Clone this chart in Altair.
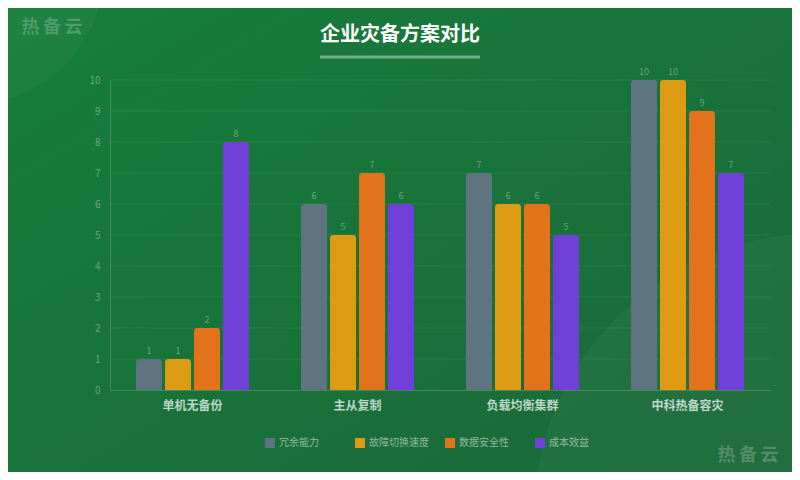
import altair as alt
import pandas as pd

categories = ["单机无备份", "主从复制", "负载均衡集群", "中科热备容灾"]
series = ["冗余能力", "故障切换速度", "数据安全性", "成本效益"]
colors = ["#5e7581", "#dd9a13", "#e2731b", "#7040d8"]
values = {
    "冗余能力": [1, 6, 7, 10],
    "故障切换速度": [1, 5, 6, 10],
    "数据安全性": [2, 7, 6, 9],
    "成本效益": [8, 6, 5, 7],
}
y_ticks = list(range(11))

rows = []
for s in series:
    for c, v in zip(categories, values[s]):
        rows.append({"方案": c, "指标": s, "值": v})
df = pd.DataFrame(rows)

FONT = "Noto Sans CJK SC"
W, H = 660, 310

x_enc = alt.X("方案:N", sort=categories,
              scale=alt.Scale(paddingInner=0, paddingOuter=0),
              axis=alt.Axis(title=None, labelAngle=0, labelFontSize=12, labelFontWeight="bold",
                            labelColor="rgba(255,255,255,0.72)", labelPadding=10, labelFont=FONT,
                            domainColor="rgba(255,255,255,0.18)", ticks=False, grid=False, zindex=1))
xo_enc = alt.XOffset("指标:N", sort=series,
                     scale=alt.Scale(paddingInner=3/29, paddingOuter=52/58))
y_scale = alt.Scale(domain=[0, 10], nice=False)
y_axis = alt.Axis(title=None, values=y_ticks, labelFontSize=10, labelFont=FONT,
                  labelColor="rgba(255,255,255,0.36)", labelPadding=10,
                  ticks=False, domainColor="rgba(255,255,255,0.18)",
                  grid=False, zindex=1)
color_enc = alt.Color("指标:N", sort=series,
                      scale=alt.Scale(domain=series, range=colors),
                      legend=alt.Legend(title=None, orient="none", direction="horizontal",
                                        columns=4, gridAlign="all",
                                        legendX=155, legendY=358, symbolType="square",
                                        symbolSize=100, symbolStrokeWidth=0, symbolOpacity=1,
                                        labelColor="rgba(255,255,255,0.52)", labelFontSize=10,
                                        labelFont=FONT, columnPadding=16,
                                        labelOffset=4))

bg = alt.Chart(pd.DataFrame({"a": [0]})).mark_rect(
    fill=alt.Gradient(gradient="linear", x1=0, y1=0, x2=1, y2=1,
                      stops=[alt.GradientStop(color="#177e3c", offset=0),
                             alt.GradientStop(color="#1a6838", offset=1)]),
    clip=False
).encode(x=alt.value(-110), x2=alt.value(690), y=alt.value(-80), y2=alt.value(400))

circles = alt.Chart(pd.DataFrame({"a": [0]})).mark_point(
    shape="circle", filled=True, fill="white", opacity=0.035, clip=False
)
c1 = circles.encode(x=alt.value(-140), y=alt.value(-110), size=alt.value(72000))
c2 = circles.encode(x=alt.value(710), y=alt.value(440), size=alt.value(330000))

grid = alt.Chart(pd.DataFrame({"值": y_ticks[1:]})).mark_rule(
    color="rgba(255,255,255,0.07)", strokeWidth=1
).encode(y=alt.Y("值:Q", scale=y_scale, axis=y_axis))

base = alt.Chart(df)
bars = base.mark_bar(cornerRadiusTopLeft=3, cornerRadiusTopRight=3).encode(
    x=x_enc, xOffset=xo_enc, y=alt.Y("值:Q", scale=y_scale, axis=y_axis), color=color_enc)
labels = base.mark_text(dy=-8, fontSize=9, font=FONT, color="rgba(255,255,255,0.36)").encode(
    x=alt.X("方案:N", sort=categories), xOffset=alt.XOffset("指标:N", sort=series),
    y=alt.Y("值:Q", scale=y_scale, axis=y_axis), text="值:Q")

title = alt.Chart(pd.DataFrame({"t": ["企业灾备方案对比"]})).mark_text(
    font=FONT, fontSize=20, fontWeight="bold", color="white", baseline="middle", clip=False
).encode(x=alt.value(290), y=alt.value(-45), text="t:N")
underline = alt.Chart(pd.DataFrame({"a": [0]})).mark_rule(
    color="rgba(255,255,255,0.4)", strokeWidth=3, clip=False
).encode(x=alt.value(210), x2=alt.value(370), y=alt.value(-23))

wm = alt.Chart(pd.DataFrame({"t": ["热\u2009备\u2009云"]})).mark_text(
    font=FONT, fontSize=18, fontWeight="bold", color="rgba(255,255,255,0.22)",
    baseline="middle", clip=False)
wm1 = wm.encode(x=alt.value(-58), y=alt.value(-52), text="t:N")
wm2 = wm.encode(x=alt.value(638), y=alt.value(376), text="t:N")

chart = alt.layer(bg, c1, c2, grid, bars, labels, title, underline, wm1, wm2).properties(
    width=W, height=H,
    autosize=alt.AutoSizeParams(type="none"),
    padding={"left": 102, "top": 72, "right": 22, "bottom": 82},
    background="#187238",
).configure_view(stroke=None).configure(font=FONT)

chart.save("out.html", embed_options={"renderer": "svg", "actions": False})
